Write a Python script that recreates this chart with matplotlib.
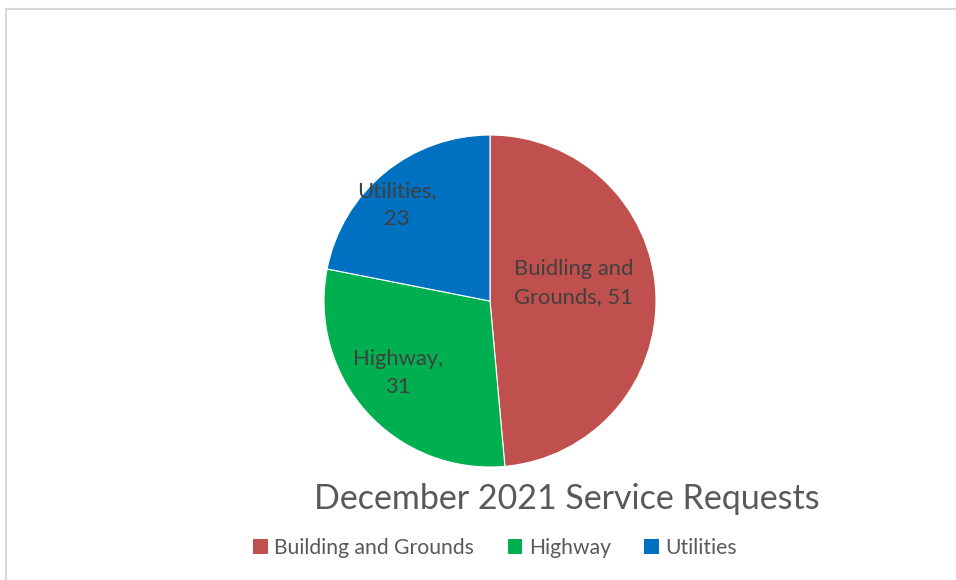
import matplotlib.pyplot as plt
from matplotlib.patches import Rectangle, Patch

categories = ['Building and Grounds', 'Highway', 'Utilities']
values = [51, 31, 23]
slice_labels = ['Buidling and\nGrounds, 51', 'Highway,\n31', 'Utilities,\n23']
colors = ['#C0504D', '#00B050', '#0070C0']
label_pos = [(0.506, 0.108), (-0.554, -0.434), (-0.56, 0.578)]

plt.rcParams['font.family'] = ['Lato', 'DejaVu Sans']

fig = plt.figure(figsize=(9.56, 5.80), dpi=100)

# light grey chart border (top and left visible)
fig.patches.append(Rectangle((6 / 956, -0.1), 1.1, 1 - 9 / 580 + 0.1,
                             transform=fig.transFigure, fill=False,
                             edgecolor='#D9D9D9', linewidth=1.5))

ax = fig.add_axes([0.3389, 0.1948, 0.3473, 0.5724])
ax.pie(values, colors=colors, startangle=90, counterclock=False,
       wedgeprops=dict(edgecolor='white', linewidth=0.8))
ax.set_xlim(-1, 1)
ax.set_ylim(-1, 1)
ax.set_aspect('auto')

for txt, (x, y) in zip(slice_labels, label_pos):
    ax.text(x, y, txt, ha='center', va='center', fontsize=15.8,
            color='#404040', linespacing=1.55)

fig.text(567 / 956, 1 - 499 / 580, 'December 2021 Service Requests',
         ha='center', va='center', fontsize=24.5, color='#595959')

handles = [Patch(facecolor=c, edgecolor='none') for c in colors]
fig.legend(handles, categories, loc='center', bbox_to_anchor=(495 / 956, 1 - 548 / 580),
           ncol=3, frameon=False, fontsize=15.2, handlelength=0.7, handleheight=0.7,
           handletextpad=0.3, columnspacing=1.6, labelcolor='#595959')

fig.savefig('out.png', dpi=100, facecolor='white')
